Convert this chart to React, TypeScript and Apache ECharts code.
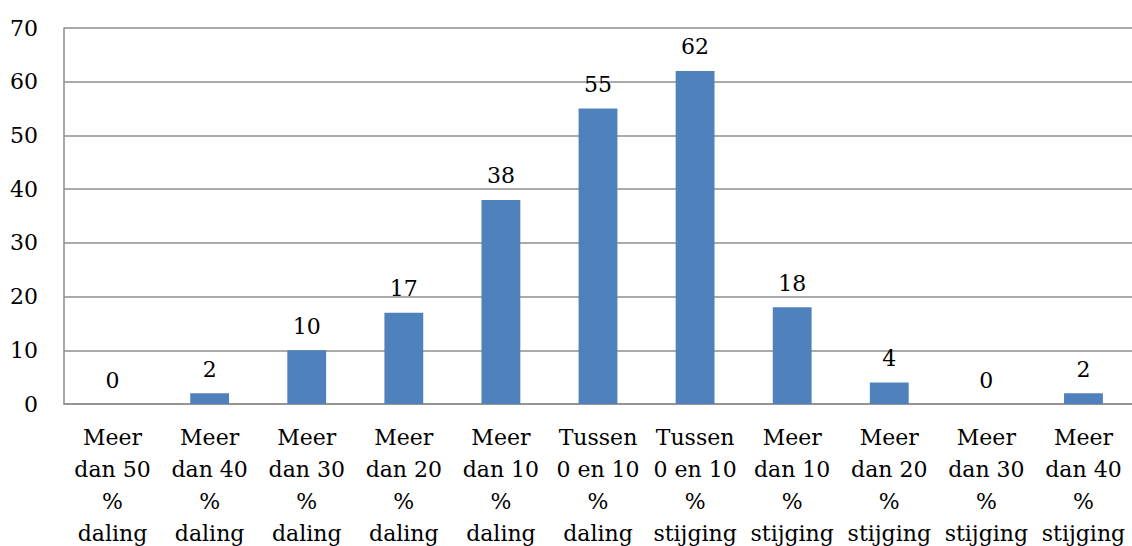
import React, { useEffect, useRef } from "react";
import * as echarts from "echarts";

const categories = [
  "Meer\ndan 50\n%\ndaling",
  "Meer\ndan 40\n%\ndaling",
  "Meer\ndan 30\n%\ndaling",
  "Meer\ndan 20\n%\ndaling",
  "Meer\ndan 10\n%\ndaling",
  "Tussen\n0 en 10\n%\ndaling",
  "Tussen\n0 en 10\n%\nstijging",
  "Meer\ndan 10\n%\nstijging",
  "Meer\ndan 20\n%\nstijging",
  "Meer\ndan 30\n%\nstijging",
  "Meer\ndan 40\n%\nstijging",
];
const values = [0, 2, 10, 17, 38, 55, 62, 18, 4, 0, 2];
const yMin = 0;
const yMax = 70;
const yInterval = 10;

const FONT = "DejaVu Serif";

export default function App() {
  const ref = useRef<HTMLDivElement>(null);
  useEffect(() => {
    if (!ref.current) return;
    const chart = echarts.init(ref.current, undefined, { renderer: "svg" });
    chart.setOption({
      animation: false,
      grid: {
        left: 64,
        right: 0,
        top: 28,
        bottom: 142,
        containLabel: false,
        outerBoundsMode: "none",
      },
      xAxis: {
        type: "category",
        data: categories,
        axisLine: { show: true, lineStyle: { color: "#8e8e8e", width: 1.5 } },
        axisTick: { show: false },
        axisLabel: {
          interval: 0,
          color: "#000",
          fontFamily: FONT,
          fontSize: 22,
          lineHeight: 32,
          margin: 17,
        },
      },
      yAxis: {
        type: "value",
        min: yMin,
        max: yMax,
        interval: yInterval,
        axisLine: { show: true, lineStyle: { color: "#8e8e8e", width: 1.5 } },
        axisTick: { show: false },
        splitLine: { show: true, lineStyle: { color: "#8e8e8e", width: 1.5 } },
        axisLabel: {
          color: "#000",
          fontFamily: FONT,
          fontSize: 22,
          margin: 26,
        },
      },
      series: [
        {
          type: "bar",
          data: values,
          barWidth: "40%",
          itemStyle: { color: "#4F81BD" },
          label: {
            show: true,
            position: "top",
            distance: 13,
            color: "#000",
            fontFamily: FONT,
            fontSize: 22,
          },
        },
      ],
    });
    return () => chart.dispose();
  }, []);
  return (
    <div
      ref={ref}
      style={{ position: "absolute", left: 0, top: 0, width: 1132, height: 546 }}
    />
  );
}
